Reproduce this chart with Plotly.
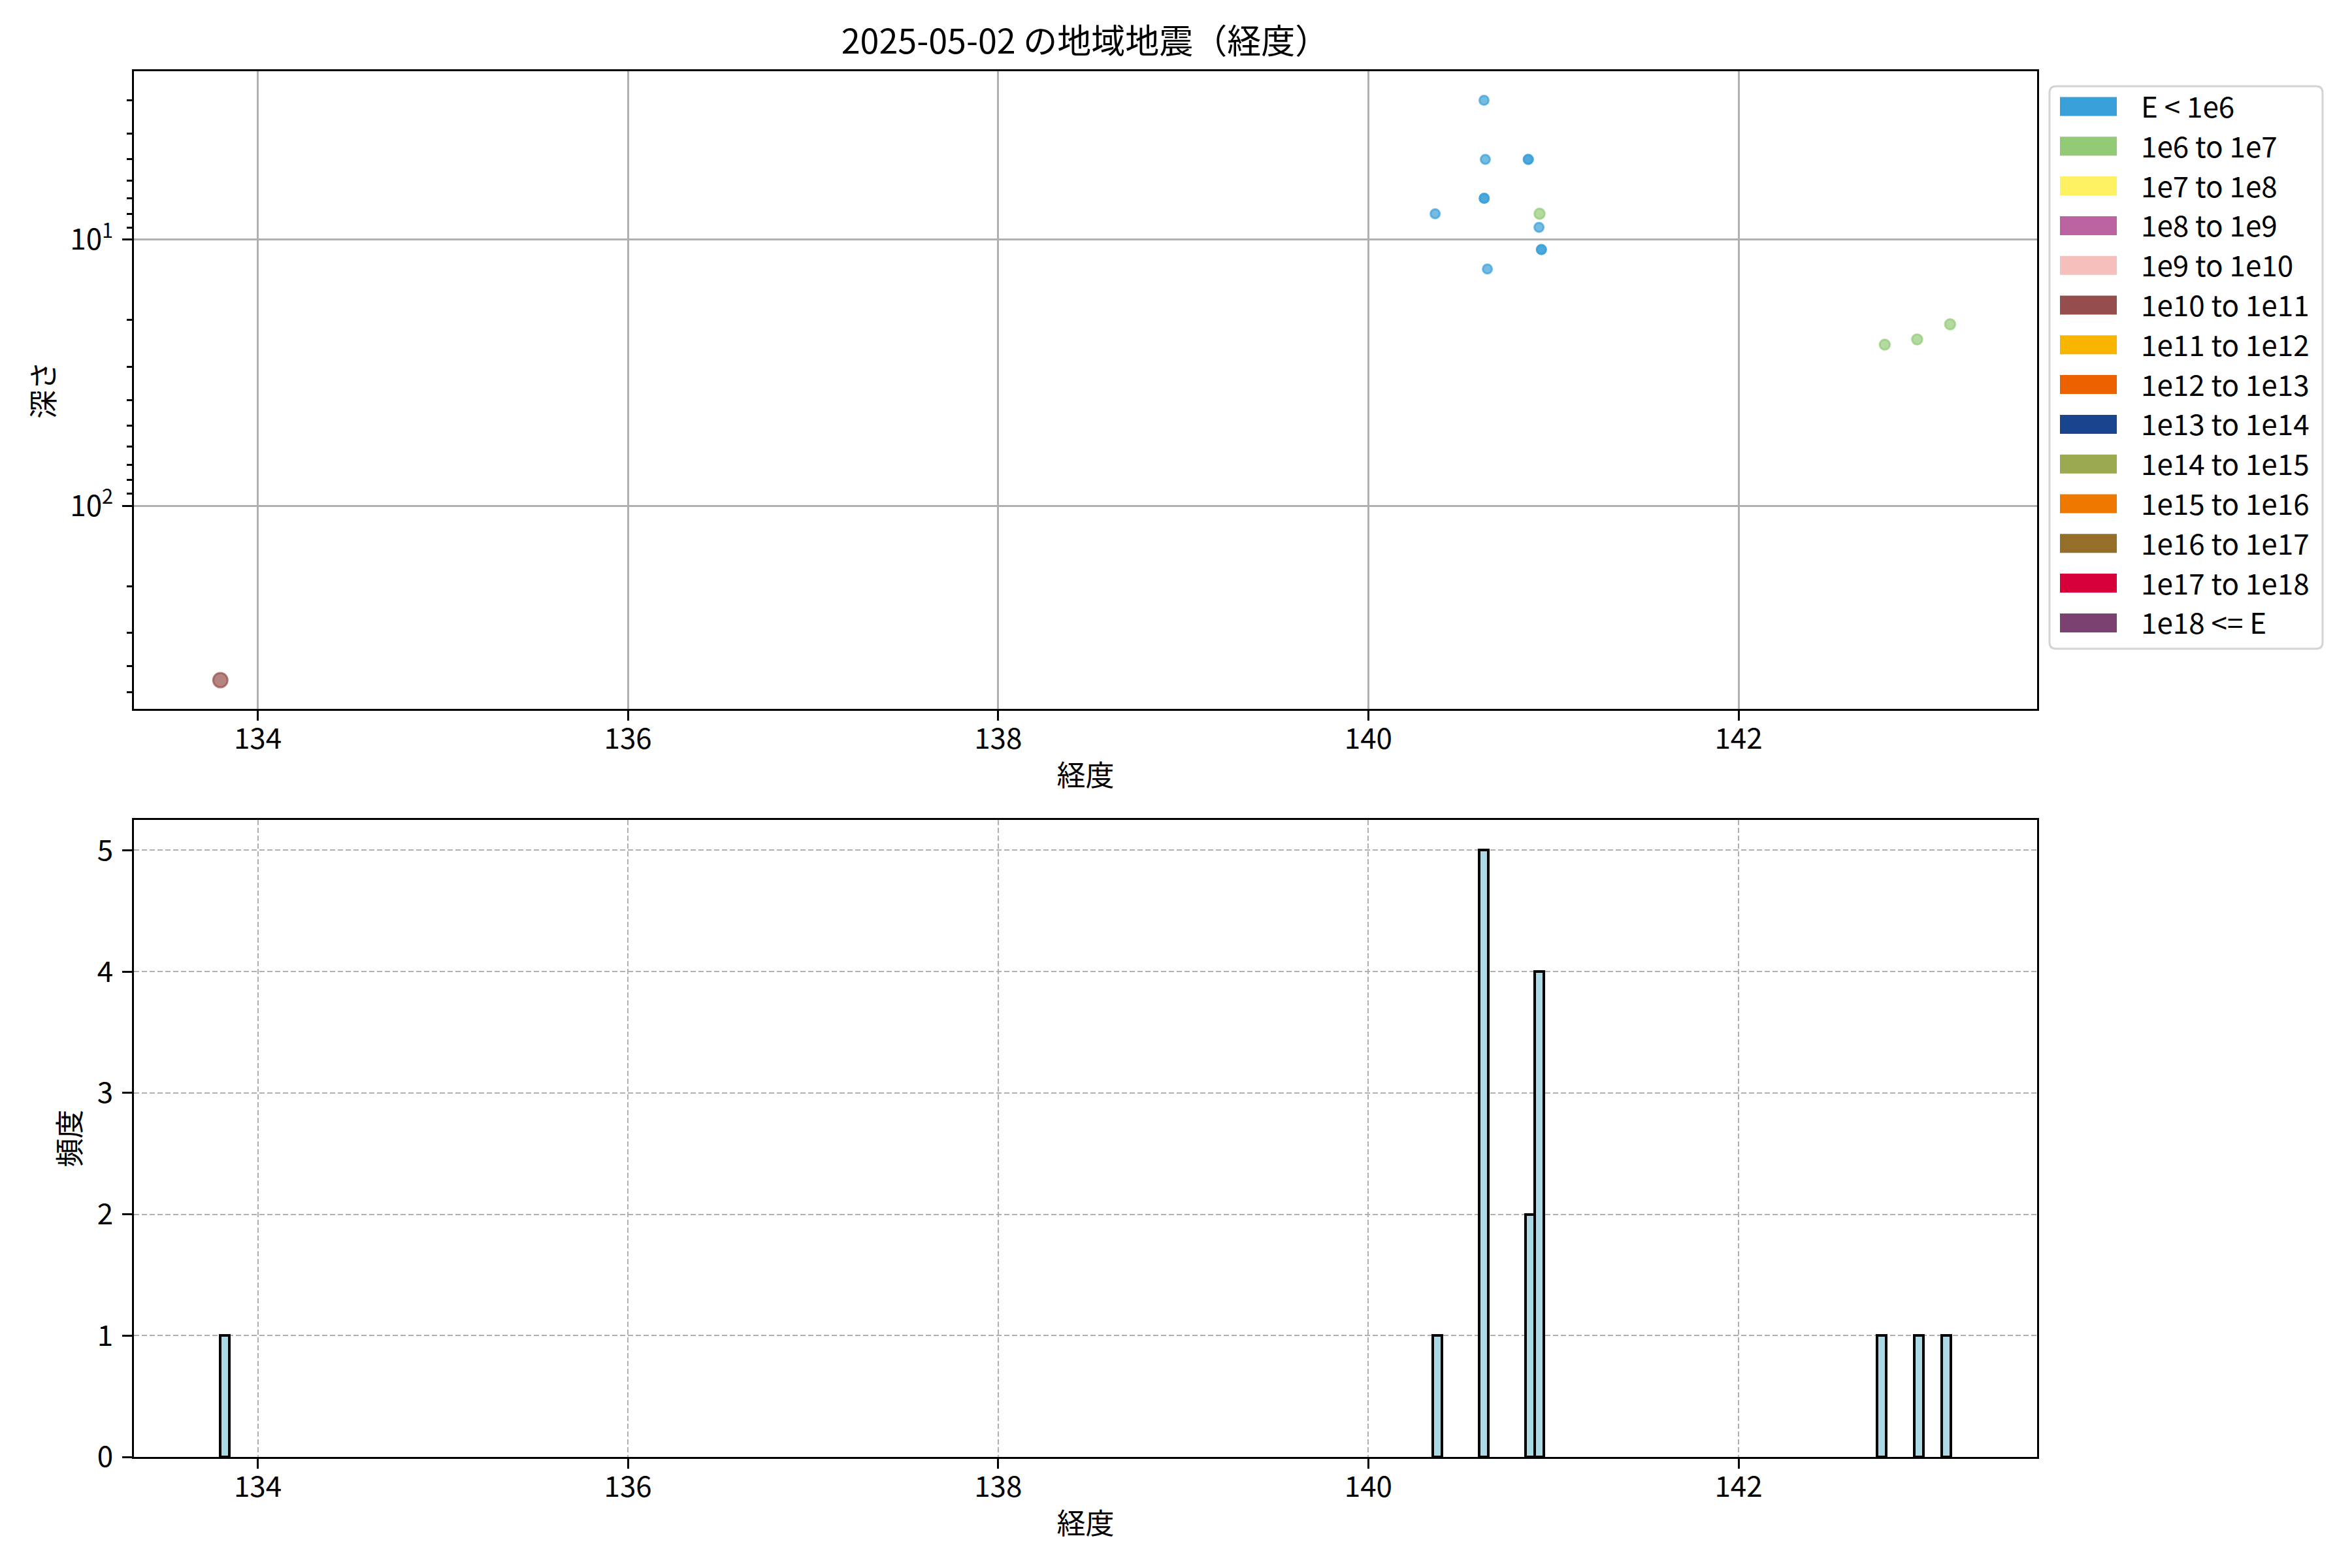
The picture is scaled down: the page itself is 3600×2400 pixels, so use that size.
import plotly.graph_objects as go

# ---------------- data ----------------
title_text = "2025-05-02 の地域地震（経度）"
x_label = "経度"
depth_label = "深さ"
count_label = "頻度"

energy_labels = ["E < 1e6", "1e6 to 1e7", "1e7 to 1e8", "1e8 to 1e9", "1e9 to 1e10",
                 "1e10 to 1e11", "1e11 to 1e12", "1e12 to 1e13", "1e13 to 1e14",
                 "1e14 to 1e15", "1e15 to 1e16", "1e16 to 1e17", "1e17 to 1e18", "1e18 <= E"]
energy_colors = ["#3AA0DA", "#93CA76", "#FFF262", "#BB62A0", "#F5BFBC",
                 "#954E4C", "#F8B500", "#EC6100", "#19448E",
                 "#9BAA4F", "#EE7800", "#956F29", "#D7003A", "#7A4171"]

longitude = [140.625, 140.632, 140.864, 140.864, 140.626, 140.626, 140.361, 140.922,
             140.935, 140.935, 140.643, 140.925, 142.790, 142.965, 143.143, 133.798]
depth = [3.0, 5.0, 5.0, 5.0, 7.0, 7.0, 8.0, 9.0,
         10.9, 10.9, 12.9, 8.0, 24.8, 23.7, 20.8, 451.0]
energy_class = [0, 0, 0, 0, 0, 0, 0, 0,
                0, 0, 0, 1, 1, 1, 1, 5]

x_ticks = [134, 136, 138, 140, 142]
depth_ticks = [10, 100]
depth_tick_text = ["10<sup>1</sup>", "10<sup>2</sup>"]
depth_minor_ticks = [3, 4, 5, 6, 7, 8, 9, 20, 30, 40, 50, 60, 70, 80, 90, 200, 300, 400, 500]
count_ticks = [0, 1, 2, 3, 4, 5]
bin_width = 0.05

# ---------------- layout helpers ----------------
W, H = 3600, 2400
FONT = "Noto Sans CJK JP"
FS = 44


def px(x):
    return x / W


def py(y):
    return 1 - y / H


def rgba(hexc, a):
    h = hexc.lstrip("#")
    r, g, b = int(h[0:2], 16), int(h[2:4], 16), int(h[4:6], 16)
    return f"rgba({r},{g},{b},{a})"


x_dom = [px(205), px(3118)]
top_dom = [py(1085), py(109)]
bot_dom = [py(2230), py(1255)]
x_range = [133.331, 143.613]

fig = go.Figure()

# scatter: one trace per energy class present
for ci, (lab, col) in enumerate(zip(energy_labels, energy_colors)):
    xs = [x for x, c in zip(longitude, energy_class) if c == ci]
    ys = [d for d, c in zip(depth, energy_class) if c == ci]
    if not xs:
        continue
    size = 14 + 1.6 * ci
    fig.add_trace(go.Scatter(
        x=xs, y=ys, mode="markers", name=lab, showlegend=False,
        marker=dict(size=size, color=rgba(col, 0.7),
                    line=dict(color=rgba(col, 0.7), width=3)),
        xaxis="x", yaxis="y"))

# histogram (bins of fixed width starting at the minimum longitude)
lon_min, lon_max = min(longitude), max(longitude)
fig.add_trace(go.Histogram(
    x=longitude, xbins=dict(start=lon_min, end=lon_max + bin_width, size=bin_width),
    marker=dict(color="#ADD8E6", line=dict(color="black", width=4)),
    showlegend=False, xaxis="x2", yaxis="y2"))

axis_common = dict(showline=True, linecolor="black", linewidth=3, mirror=True,
                   ticks="outside", ticklen=15, tickwidth=3, tickcolor="black",
                   tickfont=dict(family=FONT, size=FS, color="black"),
                   zeroline=False, automargin=False)

fig.update_layout(
    width=W, height=H, autosize=False,
    margin=dict(l=0, r=0, t=0, b=0),
    paper_bgcolor="white", plot_bgcolor="white",
    font=dict(family=FONT, size=FS, color="black"),
    bargap=0,
    title=dict(text=title_text, x=px(1661), y=py(64), xanchor="center", yanchor="middle",
               xref="paper", yref="container", automargin=False,
               font=dict(family=FONT, size=52, color="black")),
    xaxis=dict(domain=x_dom, range=x_range, anchor="y",
               tickvals=x_ticks, ticktext=[str(t) for t in x_ticks],
               showgrid=True, gridcolor="#b0b0b0", gridwidth=3, ticklabelstandoff=-10,
               title=dict(text=x_label, standoff=15, font=dict(family=FONT, size=FS)),
               **axis_common),
    yaxis=dict(domain=top_dom, type="log", range=[2.762, 0.368], anchor="x",
               tickvals=depth_ticks, ticktext=depth_tick_text,
               showgrid=True, gridcolor="#b0b0b0", gridwidth=3, ticklabelstandoff=5,
               minor=dict(tickvals=depth_minor_ticks, ticks="outside", ticklen=8,
                          tickwidth=2.5, tickcolor="black", showgrid=False),
               title=dict(text=depth_label, standoff=10, font=dict(family=FONT, size=FS)),
               **axis_common),
    xaxis2=dict(domain=x_dom, range=x_range, anchor="y2",
                tickvals=x_ticks, ticktext=[str(t) for t in x_ticks],
                showgrid=True, gridcolor="#b0b0b0", gridwidth=2, griddash="8px,4px",
                ticklabelstandoff=-10,
                title=dict(text=x_label, standoff=15, font=dict(family=FONT, size=FS)),
                **axis_common),
    yaxis2=dict(domain=bot_dom, range=[0, 5.25], anchor="x2",
                tickvals=count_ticks, ticktext=[str(t) for t in count_ticks],
                showgrid=True, gridcolor="#b0b0b0", gridwidth=2, griddash="8px,4px",
                ticklabelstandoff=5,
                title=dict(text=count_label, standoff=12, font=dict(family=FONT, size=FS)),
                **axis_common),
)

# ---------------- manual legend (patch-style entries) ----------------
lx0, lx1, ly0, ly1, rad = 3137, 3555, 132, 993, 10
legend_path = (
    f"M {px(lx0 + rad)} {py(ly0)} L {px(lx1 - rad)} {py(ly0)} "
    f"Q {px(lx1)} {py(ly0)} {px(lx1)} {py(ly0 + rad)} "
    f"L {px(lx1)} {py(ly1 - rad)} Q {px(lx1)} {py(ly1)} {px(lx1 - rad)} {py(ly1)} "
    f"L {px(lx0 + rad)} {py(ly1)} Q {px(lx0)} {py(ly1)} {px(lx0)} {py(ly1 - rad)} "
    f"L {px(lx0)} {py(ly0 + rad)} Q {px(lx0)} {py(ly0)} {px(lx0 + rad)} {py(ly0)} Z"
)
shapes = [dict(type="path", path=legend_path, xref="paper", yref="paper",
               line=dict(color="#d4d4d4", width=3), fillcolor="rgba(255,255,255,0.8)",
               layer="above")]
annotations = []
row0, step = 163, 60.8
for i, (lab, col) in enumerate(zip(energy_labels, energy_colors)):
    yc = row0 + i * step
    shapes.append(dict(type="rect", xref="paper", yref="paper",
                       x0=px(3153), x1=px(3240), y0=py(yc + 14.5), y1=py(yc - 14.5),
                       fillcolor=col, line=dict(width=0), layer="above"))
    annotations.append(dict(text=lab, x=px(3275), y=py(yc - 2), xref="paper", yref="paper",
                            xanchor="left", yanchor="middle", showarrow=False,
                            font=dict(family=FONT, size=FS, color="black")))
fig.update_layout(shapes=shapes, annotations=annotations)

fig.write_html("out.html", config={"displayModeBar": False},
               post_script="document.body.style.margin='0';document.body.style.padding='0';")
